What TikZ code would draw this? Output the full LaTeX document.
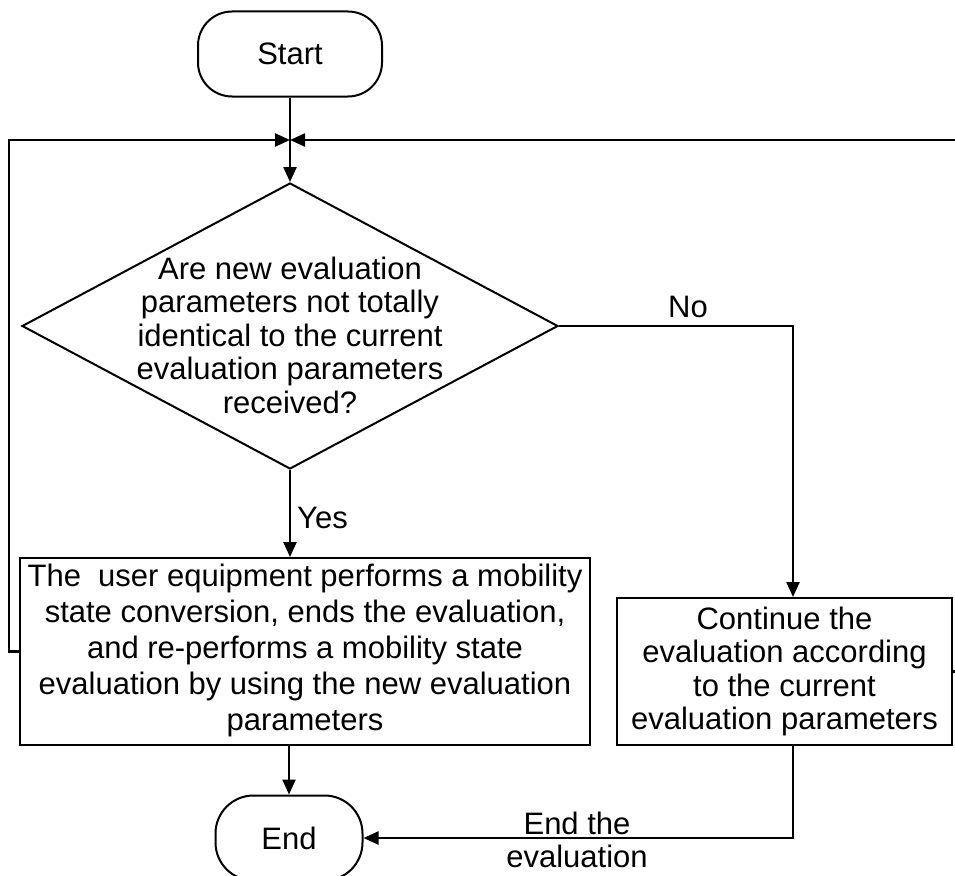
\documentclass[tikz,border=0pt]{standalone}
\usepackage{fontspec}
\setmainfont{Liberation Sans}
\usetikzlibrary{shapes.geometric,arrows.meta,calc}
\begin{document}
\begin{tikzpicture}[x=1pt,y=-1pt,
  every node/.style={font=\fontsize{31}{33.5}\selectfont},
  line/.style={line width=2.4pt},
  arr/.style={line width=2.4pt,-{Triangle[length=15pt,width=13pt]}},
  term/.style={draw,line width=2pt,rounded corners=34pt,inner sep=0pt},
  decision/.style={draw,line width=2pt,diamond,inner sep=0pt,minimum width=536pt,minimum height=286pt},
  procbox/.style={draw,line width=2pt,inner sep=0pt,align=center},
  lbl/.style={inner sep=0pt,align=center}]
\useasboundingbox (0,0) rectangle (955,875);

% terminators
\node[term,minimum width=184pt,minimum height=85pt] (start) at (290,54) {Start};
\node[term,minimum width=147pt,minimum height=85pt,rounded corners=38pt] (end) at (289,838) {End};

% decision
\node[decision] (dec) at (290,326) {};
\node[lbl] (dectext) at (290,335) {Are new evaluation\\parameters not totally\\identical to the current\\evaluation parameters\\received?};

% process boxes
\node[procbox,minimum width=570pt,minimum height=187pt] (act) at (305,651.5) {};
\node[lbl,font=\fontsize{31}{36}\selectfont] (acttext) at (305,650) {The\ \ user equipment performs a mobility\\state conversion, ends the evaluation,\\and re-performs a mobility state\\evaluation by using the new evaluation\\parameters};
\node[procbox,minimum width=335pt,minimum height=147pt] (alt) at (784.5,671.5) {Continue the\\evaluation according\\to the current\\evaluation parameters};

% junction above the decision
\coordinate (j) at (290,140);

% connectors
\draw[line] (start.south) -- (j);
\draw[arr] (j) -- (dec.north);
\draw[arr] (dec.south) -- (act.north -| dec.south);
\draw[arr] (dec.east) -| ([xshift=8.5pt]alt.north);
\draw[arr] (act.west) -- ++(-10,0) |- (j);
\draw[arr] (alt.east) -- ++(10,0) |- (j);
\draw[arr] (act.south -| end.north) -- (end.north);
\draw[arr] ([xshift=8.5pt]alt.south) |- (end.east);

% labels
\node[lbl,anchor=west] (yes) at (297,518) {Yes};
\node[lbl] (no) at (688,307) {No};
\node[lbl] (endlbl) at (577,840) {End the\\evaluation};
\end{tikzpicture}
\end{document}
